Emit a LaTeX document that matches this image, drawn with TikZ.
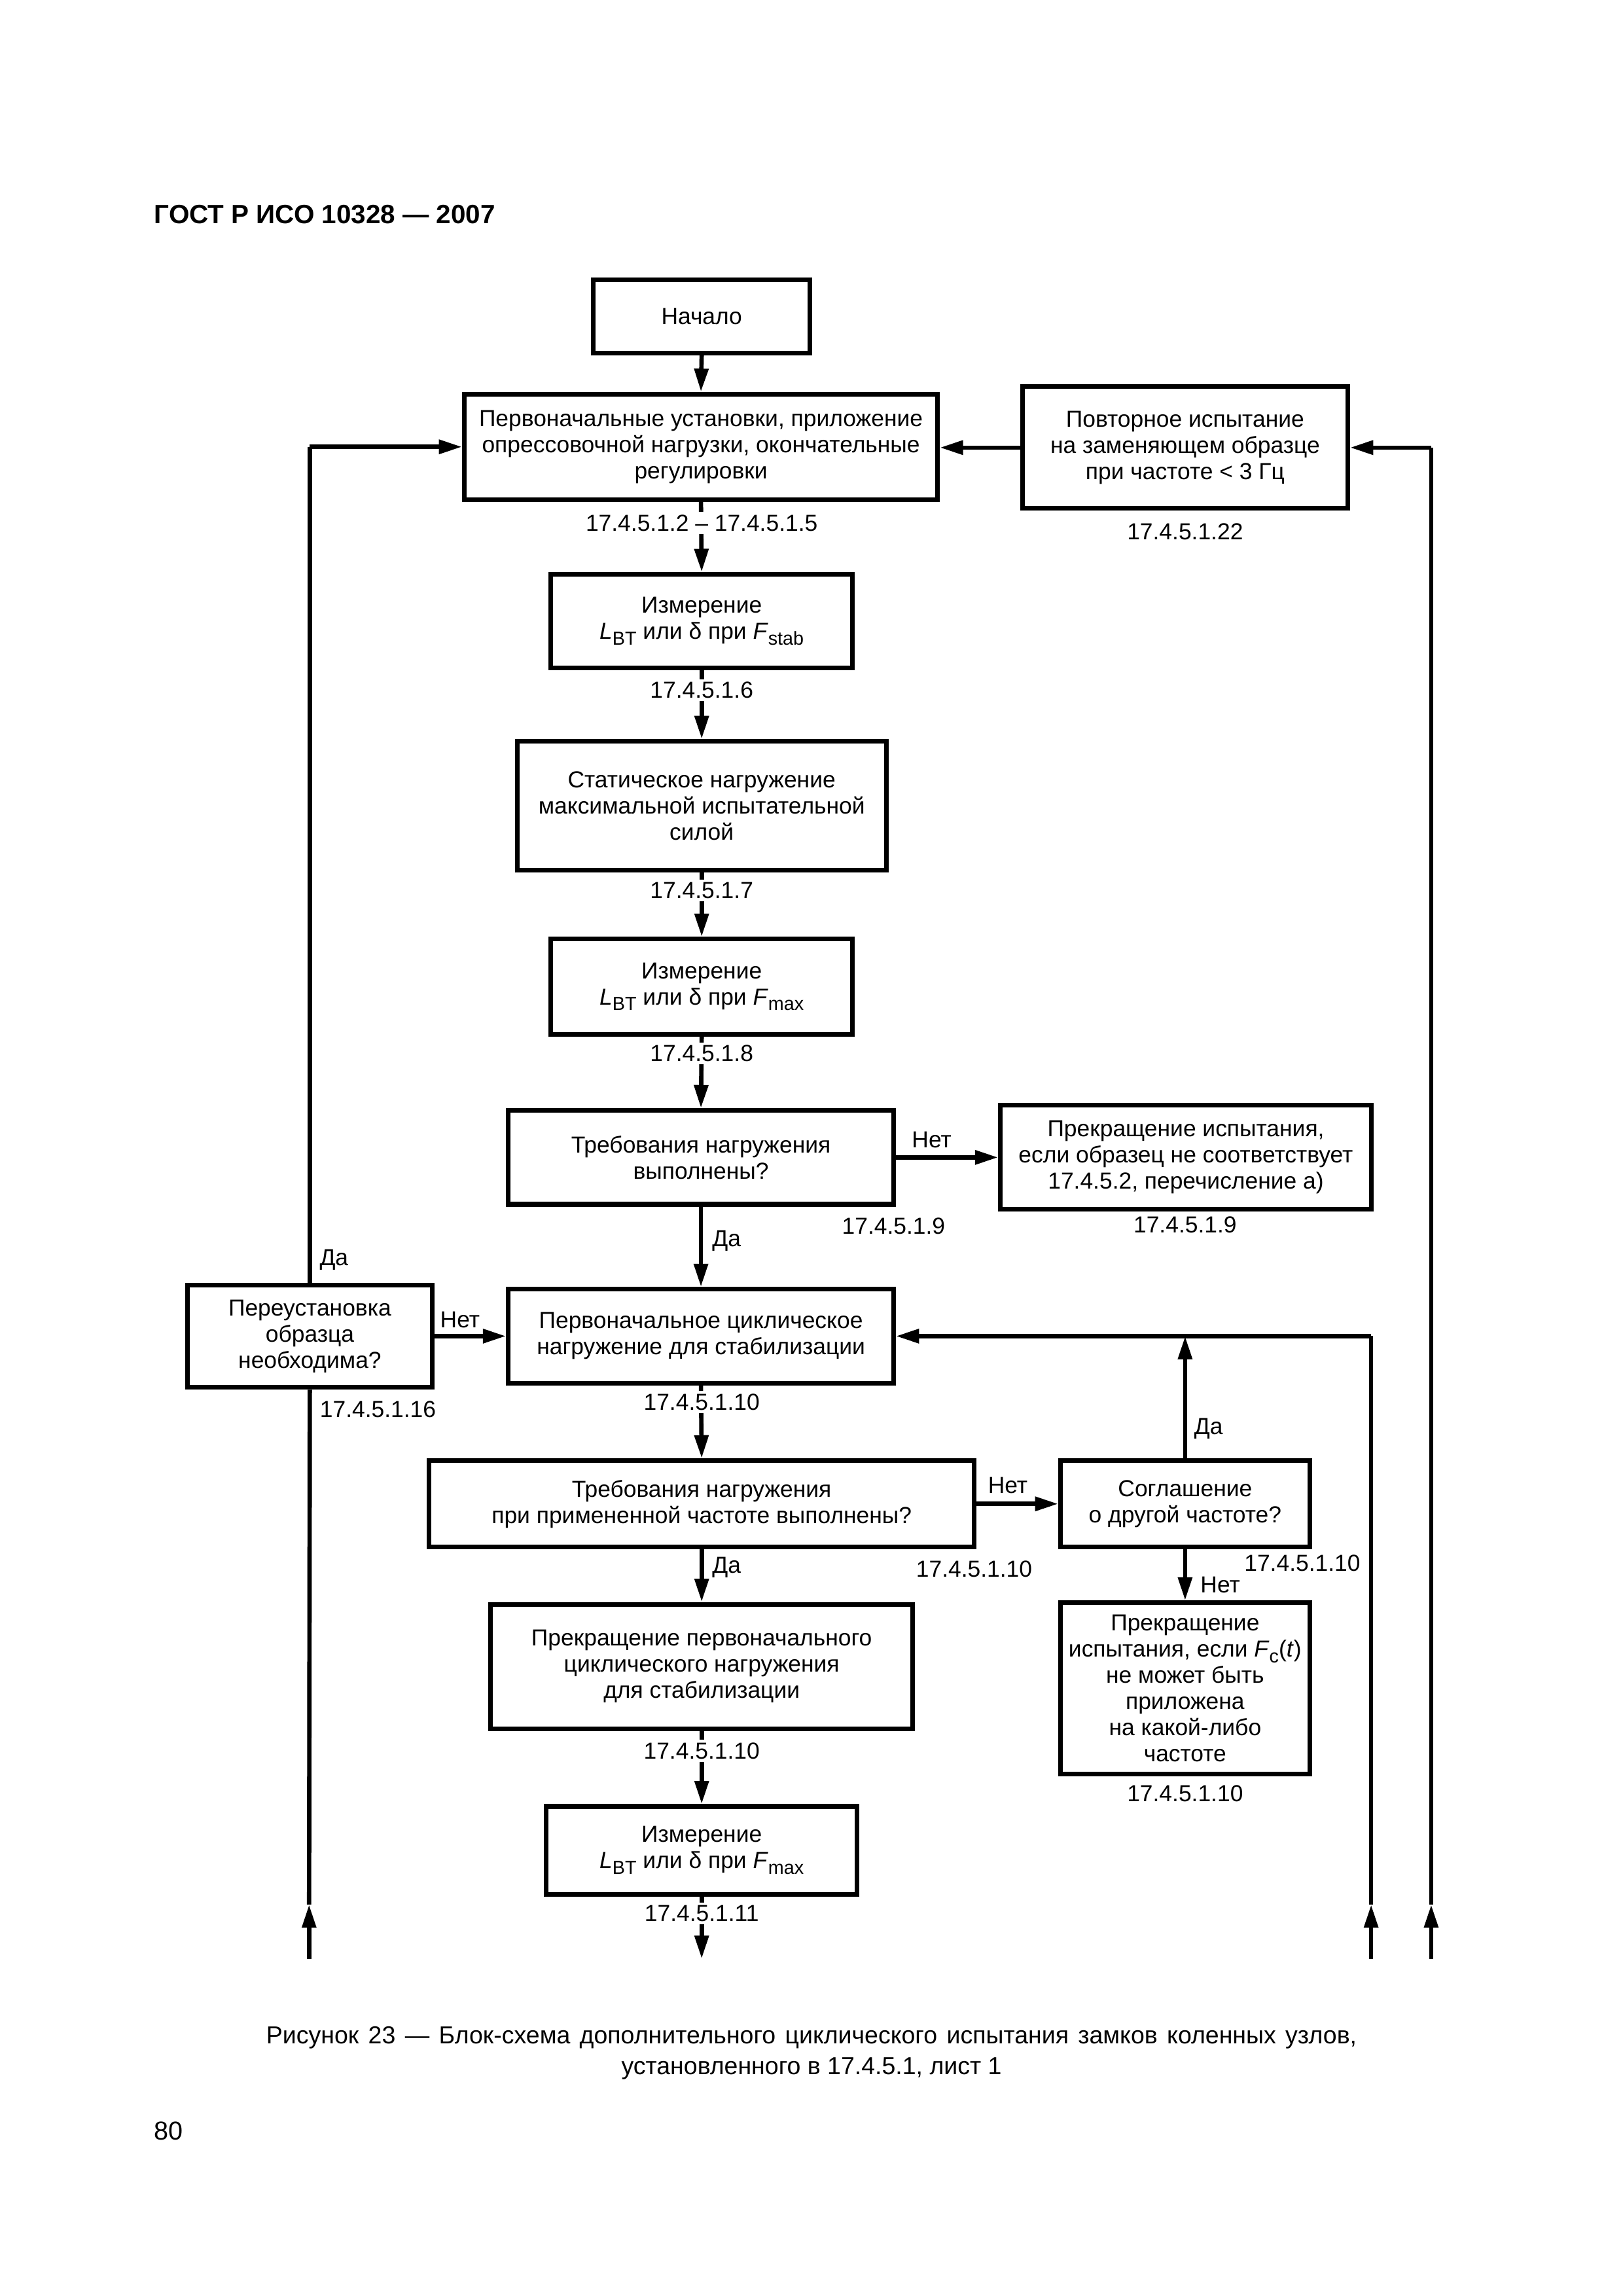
\documentclass[tikz,border=0pt]{standalone}
\usepackage{fontspec}
\setmainfont{Liberation Sans}
\usetikzlibrary{arrows.meta,calc}
\newcommand\fs{\fontsize{8.5pt}{9.6pt}\selectfont}
\newcommand\sbs[1]{\raisebox{-0.45ex}{\fontsize{6.9pt}{7pt}\selectfont #1}}
\begin{document}
\begin{tikzpicture}[x=0.53737pt,y=-0.53737pt,
  box/.style 2 args={draw,line width=1.7pt,minimum width=#1*0.53737pt,minimum height=#2*0.53737pt,inner sep=0pt,align=center,font=\fs},
  ln/.style={line width=1.6pt},
  arr/.style={line width=1.6pt,-{Triangle[length=8.5pt,width=5pt]}},
  lab/.style={font=\fs,fill=white,inner sep=1pt},
  yn/.style={font=\fs,inner sep=1pt}]
\useasboundingbox (0,0) rectangle (1107.8,1567.2);

% header
\node[anchor=base west,inner sep=0pt,font=\bfseries\fontsize{9.7pt}{12pt}\selectfont] (hdr) at (105,152.5) {ГОСТ Р ИСО 10328 — 2007};

% boxes
\node[box={148}{50}] (start) at (479,216) {Начало};
\node[box={323}{72}] (b1) at (478.5,305) {Первоначальные установки, приложение\\опрессовочной нагрузки, окончательные\\регулировки};
\node[box={222}{83}] (rep) at (809,305.5) {Повторное испытание\\на заменяющем образце\\при частоте < 3 Гц};
\node[box={206}{64}] (m1) at (479,424) {Измерение\\\textit{L}\sbs{BT} или δ при \textit{F}\sbs{stab}};
\node[box={252}{88}] (stat) at (479,550) {Статическое нагружение\\максимальной испытательной\\силой};
\node[box={206}{65}] (m2) at (479,673.5) {Измерение\\\textit{L}\sbs{BT} или δ при \textit{F}\sbs{max}};
\node[box={263}{64}] (dec1) at (478.5,790) {Требования нагружения\\выполнены?};
\node[box={253}{71}] (stop1) at (809.5,790) {Прекращение испытания,\\если образец не соответствует\\17.4.5.2, перечисление а)};
\node[box={167}{70}] (reset) at (211.5,912) {Переустановка\\образца\\необходима?};
\node[box={263}{64}] (cyc) at (478.5,912) {Первоначальное циклическое\\нагружение для стабилизации};
\node[box={372}{59}] (dec2) at (479,1026.5) {Требования нагружения\\при примененной частоте выполнены?};
\node[box={170}{59}] (agr) at (809,1026.5) {Соглашение\\о другой частоте?};
\node[box={170}{117}] (stop2) at (809,1152.5) {Прекращение\\испытания, если \textit{F}\sbs{c}(\textit{t})\\не может быть\\приложена\\на какой-либо\\частоте};
\node[box={288}{85}] (stopc) at (479,1137.5) {Прекращение первоначального\\циклического нагружения\\для стабилизации};
\node[box={212}{60}] (m3) at (479,1263) {Измерение\\\textit{L}\sbs{BT} или δ при \textit{F}\sbs{max}};

% free ends
\coordinate (lb0) at (211,1337);
\coordinate (lb1) at (211,1300);
\coordinate (ri0) at (936,1337);
\coordinate (ri1) at (936,1300);
\coordinate (ro0) at (977,1337);
\coordinate (ro1) at (977,1300);
\coordinate (mend) at (479,1337);

% connectors
\draw[arr] (start.south) -- (b1.north);
\draw[arr] (rep.west) -- (rep.west -| b1.east);
\draw[arr] (ro0) -- (ro1);
\draw[ln] (ro1) -- (ro1 |- rep.east);
\draw[arr] (ro1 |- rep.east) -- (rep.east);
\draw[arr] (lb0) -- (lb1);
\draw[ln] (lb1) -- (reset.south);
\draw[ln] (reset.north) -- (reset.north |- b1.west);
\draw[arr] (reset.north |- b1.west) -- (b1.west);
\draw[arr] (b1.south) -- (m1.north);
\draw[arr] (m1.south) -- (stat.north);
\draw[arr] (stat.south) -- (m2.north);
\draw[arr] (m2.south) -- (dec1.north);
\draw[arr] (dec1.east) -- (dec1.east -| stop1.west);
\draw[arr] (dec1.south) -- (cyc.north);
\draw[arr] (reset.east) -- (reset.east -| cyc.west);
\draw[arr] (ri0) -- (ri1);
\draw[ln] (ri1) -- (ri1 |- cyc.east);
\draw[arr] (ri1 |- cyc.east) -- (cyc.east);
\draw[arr] (agr.north) -- (agr.north |- cyc.east);
\draw[arr] (cyc.south) -- (dec2.north);
\draw[arr] (dec2.east) -- (agr.west);
\draw[arr] (agr.south) -- (stop2.north);
\draw[arr] (dec2.south) -- (stopc.north);
\draw[arr] (stopc.south) -- (m3.north);
\draw[arr] (m3.south) -- (mend);

% reference labels
\node[lab] (l1) at (479,357) {17.4.5.1.2 – 17.4.5.1.5};
\node[lab] (l2) at (809,363) {17.4.5.1.22};
\node[lab] (l3) at (479,471) {17.4.5.1.6};
\node[lab] (l4) at (479,608) {17.4.5.1.7};
\node[lab] (l5) at (479,719) {17.4.5.1.8};
\node[lab] (l6) at (610,837) {17.4.5.1.9};
\node[lab] (l7) at (809,836) {17.4.5.1.9};
\node[lab] (l8) at (258,962) {17.4.5.1.16};
\node[lab] (l9) at (479,957) {17.4.5.1.10};
\node[lab] (l10) at (665,1071) {17.4.5.1.10};
\node[lab] (l11) at (889,1067) {17.4.5.1.10};
\node[lab] (l12) at (479,1195) {17.4.5.1.10};
\node[lab] (l13) at (809,1224) {17.4.5.1.10};
\node[lab] (l14) at (479,1306) {17.4.5.1.11};

% yes / no
\node[yn] (n1) at (636,778) {Нет};
\node[yn] (y1) at (496,847) {Да};
\node[yn] (y2) at (228,860) {Да};
\node[yn] (n2) at (314,901) {Нет};
\node[yn] (y3) at (825,975) {Да};
\node[yn] (n3) at (688,1014) {Нет};
\node[yn] (y4) at (496,1070) {Да};
\node[yn] (n4) at (833,1082) {Нет};

% caption
\node[inner sep=0pt,font=\fontsize{9pt}{11pt}\selectfont] (cap1) at (554,1391) {\makebox[400pt][s]{Рисунок 23 — Блок-схема дополнительного циклического испытания замков коленных узлов,}};
\node[inner sep=0pt,font=\fontsize{9pt}{11pt}\selectfont] (cap2) at (554,1412) {установленного в 17.4.5.1, лист 1};
\node[anchor=base west,inner sep=0pt,font=\fontsize{9.5pt}{12pt}\selectfont] (pg) at (105,1460.5) {80};
\end{tikzpicture}
\end{document}
